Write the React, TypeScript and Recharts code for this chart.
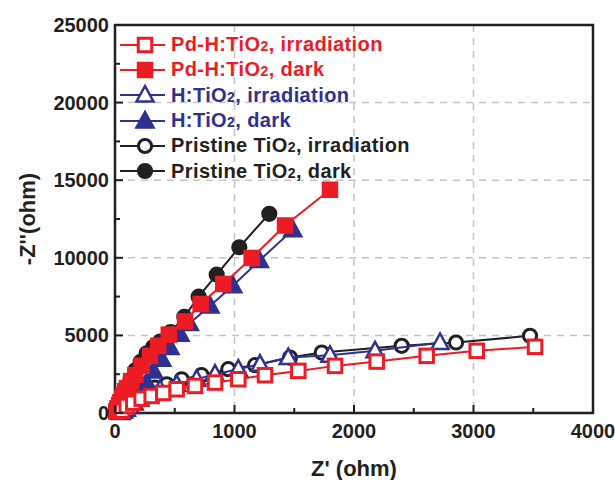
import React from "react";
import { CartesianGrid, Legend, ReferenceArea, Scatter, ScatterChart, XAxis, YAxis } from "recharts";

// Z' / -Z'' pairs (ohm)
const pdIrradiation = [
  [60, 150], [98, 450], [153, 665], [223, 925], [307, 1100], [404, 1290], [516, 1530],
  [669, 1744], [837, 1960], [1032, 2175], [1255, 2435], [1534, 2713], [1841, 3036], [2190, 3314],
  [2608, 3682], [3027, 4005], [3515, 4264],
];
const pdDark = [
  [10, 100], [20, 300], [35, 500], [45, 700], [60, 950], [70, 1150], [85, 1400], [100, 1600],
  [135, 2050], [170, 2450], [223, 3036], [293, 3680], [362, 4330], [450, 5050], [586, 5900],
  [717, 7022], [906, 8313], [1144, 9991], [1423, 12080], [1799, 14386],
];
const hIrradiation = [
  [50, 40], [70, 110], [95, 240], [125, 420], [160, 650], [200, 900], [265, 1206], [377, 1530],
  [516, 1850], [683, 2175], [837, 2500], [1032, 2823], [1213, 3146], [1450, 3573], [1799, 3720],
  [2176, 4005], [2720, 4541],
];
const hDark = [
  [40, 60], [75, 220], [115, 500], [160, 900], [210, 1400], [265, 1960], [321, 2713], [391, 3470],
  [460, 4220], [544, 5080], [622, 5770], [795, 6900], [985, 8204], [1208, 9820], [1487, 11800],
];
const pristineIrradiation = [
  [30, 100], [55, 300], [85, 600], [125, 950], [175, 1250], [240, 1480], [335, 1636],
  [432, 1850], [558, 2175], [725, 2435], [948, 2823], [1172, 3080], [1464, 3573], [1730, 3895],
  [2399, 4328], [2854, 4541], [3473, 4974],
];
const pristineDark = [
  [20, 250], [40, 650], [65, 1100], [95, 1600], [130, 2150], [170, 2750], [215, 3300], [265, 3850],
  [320, 4250], [377, 4600], [466, 5213], [580, 6200], [700, 7494], [851, 8915], [1040, 10680], [1291, 12836],
];

const xTicks = [0, 500, 1000, 1500, 2000, 2500, 3000, 3500, 4000];
const yTicks = [0, 2500, 5000, 7500, 10000, 12500, 15000, 17500, 20000, 22500, 25000];
const xGrid = [1000, 2000, 3000];
const yGrid = [5000, 10000, 15000, 20000];

const RED = "#ed1c24";
const BLUE = "#2e3192";
const INK = "#231f20";
const FONT = '"Liberation Sans", Arial, sans-serif';

type Kind = "square" | "triangle" | "circle";

const series = [
  { name: "Pd-H:TiO", tail: ", irradiation", data: pdIrradiation, color: RED, kind: "square" as Kind, filled: false },
  { name: "Pd-H:TiO", tail: ", dark", data: pdDark, color: RED, kind: "square" as Kind, filled: true },
  { name: "H:TiO", tail: ", irradiation", data: hIrradiation, color: BLUE, kind: "triangle" as Kind, filled: false },
  { name: "H:TiO", tail: ", dark", data: hDark, color: BLUE, kind: "triangle" as Kind, filled: true },
  { name: "Pristine TiO", tail: ", irradiation", data: pristineIrradiation, color: INK, kind: "circle" as Kind, filled: false },
  { name: "Pristine TiO", tail: ", dark", data: pristineDark, color: INK, kind: "circle" as Kind, filled: true },
];

function Marker({ cx, cy, kind, filled, color }: any) {
  const fill = filled ? color : "#fff";
  if (kind === "square") {
    const s = 13.5;
    return <rect x={cx - s / 2} y={cy - s / 2} width={s} height={s} fill={fill} stroke={color} strokeWidth={3} />;
  }
  if (kind === "triangle") {
    const pts = `${cx},${cy - 9} ${cx - 8.5},${cy + 6.5} ${cx + 8.5},${cy + 6.5}`;
    return <polygon points={pts} fill={fill} stroke={color} strokeWidth={2.5} strokeLinejoin="miter" />;
  }
  return <circle cx={cx} cy={cy} r={6.6} fill={fill} stroke={color} strokeWidth={3} />;
}

const XTick = (props: any) => {
  const { x, y, payload } = props;
  const major = payload.value % 1000 === 0;
  return (
    <g>
      <line x1={x} x2={x} y1={y} y2={y - (major ? 8 : 5)} stroke={INK} strokeWidth={2} />
      {major && (
        <text x={x} y={y + 25} textAnchor="middle" fontSize={20} fontWeight="bold" fontFamily={FONT} fill={INK}>
          {payload.value}
        </text>
      )}
    </g>
  );
};

const YTick = (props: any) => {
  const { x, y, payload } = props;
  const major = payload.value % 5000 === 0;
  return (
    <g>
      <line x1={x} x2={x + (major ? 8 : 5)} y1={y} y2={y} stroke={INK} strokeWidth={2} />
      {major && (
        <text x={x - 6} y={y + 7} textAnchor="end" fontSize={20} fontWeight="bold" fontFamily={FONT} fill={INK}>
          {payload.value}
        </text>
      )}
    </g>
  );
};

const LegendBox = () => (
  <div style={{ fontFamily: FONT, fontWeight: "bold", fontSize: 20, letterSpacing: 0.4 }}>
    {series.map((s, i) => (
      <div key={i} style={{ display: "flex", alignItems: "center", height: 25.3, color: s.color, whiteSpace: "nowrap" }}>
        <svg width={53} height={24} style={{ display: "block" }}>
          <line x1={2} x2={47} y1={12} y2={12} stroke={s.color} strokeWidth={2} />
          <Marker cx={27} cy={12} kind={s.kind} filled={s.filled} color={s.color} />
        </svg>
        <span>
          {s.name}
          <span style={{ fontSize: 14 }}>2</span>
          {s.tail}
        </span>
      </div>
    ))}
  </div>
);

const YLabel = (props: any) => {
  const { viewBox } = props;
  const cx = viewBox.x + 27;
  const cy = viewBox.y + viewBox.height / 2;
  return (
    <text x={cx} y={cy} transform={`rotate(-90 ${cx} ${cy})`} textAnchor="middle" dominantBaseline="central"
      fontSize={22} fontWeight="bold" fontFamily={FONT} fill={INK}>
      -Z''(ohm)
    </text>
  );
};

const toPoints = (d: number[][]) => d.map(([x, y]) => ({ x, y }));

// draw black first, red last so the red markers sit on top like the original
const drawOrder = [5, 4, 3, 2, 1, 0];

export default function App() {
  return (
    <div style={{ position: "absolute", left: 0, top: 0, background: "#fff" }}>
      <ScatterChart width={615} height={480} margin={{ top: 25, right: 22, bottom: 0, left: 0 }}>
        <CartesianGrid stroke="#c4c4c4" strokeWidth={1.5} strokeDasharray="7 6" verticalValues={xGrid} horizontalValues={yGrid} />
        <XAxis
          type="number"
          dataKey="x"
          domain={[0, 4000]}
          ticks={xTicks}
          interval={0}
          axisLine={false}
          tickLine={false}
          tickSize={0}
          tickMargin={0}
          height={67}
          tick={<XTick />}
          label={{ value: "Z' (ohm)", position: "insideBottom", offset: 4, fontSize: 22, fontWeight: "bold", fontFamily: FONT, fill: INK }}
        />
        <YAxis
          type="number"
          dataKey="y"
          domain={[0, 25000]}
          ticks={yTicks}
          interval={0}
          axisLine={false}
          tickLine={false}
          tickSize={0}
          tickMargin={0}
          width={115}
          tick={<YTick />}
          label={<YLabel />}
        />
        {drawOrder.map((i) => {
          const s = series[i];
          return (
            <Scatter
              key={i}
              name={s.name + "2" + s.tail}
              data={toPoints(s.data)}
              line={{ stroke: s.color, strokeWidth: 2 }}
              lineType="joint"
              fill={s.color}
              isAnimationActive={false}
              shape={(p: any) => <Marker cx={p.cx} cy={p.cy} kind={s.kind} filled={s.filled} color={s.color} />}
            />
          );
        })}
        <ReferenceArea x1={0} x2={4000} y1={0} y2={25000} fill="none" stroke={INK} strokeWidth={2.5} />
        <Legend
          layout="horizontal"
          verticalAlign="middle"
          align="center"
          content={<LegendBox />}
          wrapperStyle={{ left: 118, top: 32, width: "auto" }}
        />
      </ScatterChart>
    </div>
  );
}
